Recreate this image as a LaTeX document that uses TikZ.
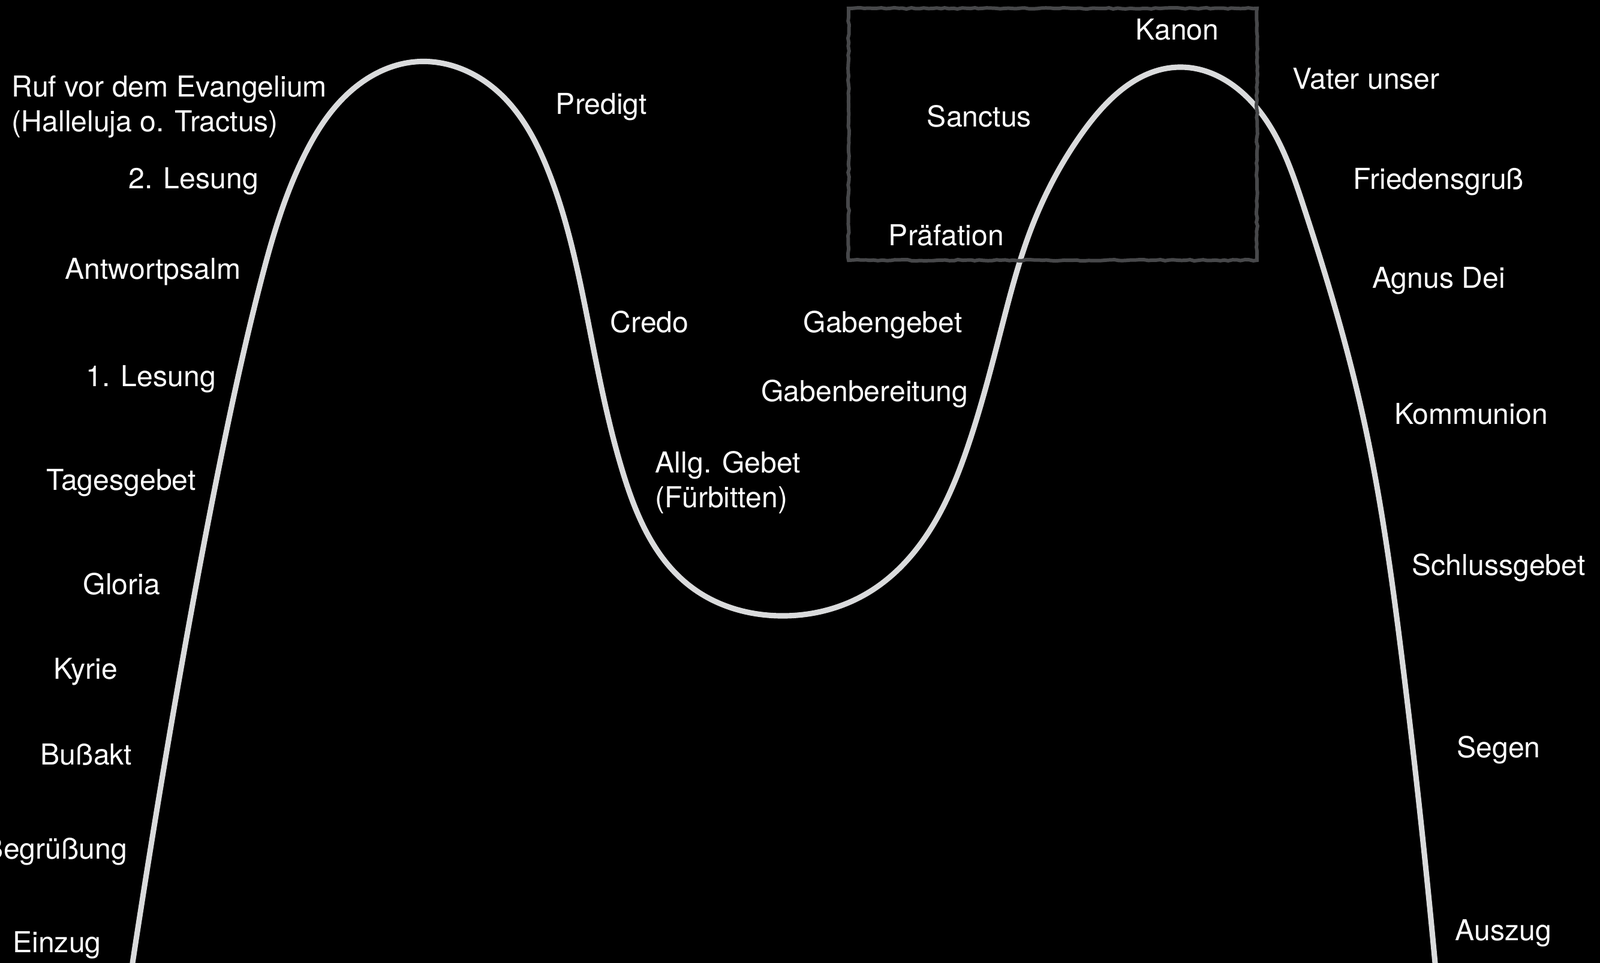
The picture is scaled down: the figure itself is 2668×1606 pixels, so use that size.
\documentclass[tikz,border=0pt]{standalone}
\usepackage{fontspec}
\setmainfont{TeX Gyre Heros}
\usepackage{xcolor}
\usetikzlibrary{decorations.pathmorphing, hobby}
\definecolor{chalk}{HTML}{DADBDC}
\definecolor{slate}{HTML}{47484A}

\begin{document}
\begin{tikzpicture}[
    x=0.01cm, y=-0.01cm,
    part/.style={text=white, inner sep=0pt, anchor=base, font=\fontsize{13.7}{16.4}\selectfont},
    twoline/.style={part, align=left, anchor=base west},
    curve/.style={draw=chalk, line width=2.6pt, line cap=round, line join=round},
    frame/.style={draw=slate, line width=1.7pt, decorate,
      decoration={random steps, segment length=2pt, amplitude=0.3pt}}
  ]
  \fill[black] (0,0) rectangle (2668,1606);
  \clip (0,0) rectangle (2668,1606);

  % the course of the mass
  \draw[curve, use Hobby shortcut] (221,1606) .. (287,1200) .. (361,800)
    .. (433,477) .. (507,260) .. (573,163) .. (693,103) .. (827,150)
    .. (915,287) .. (978,523) .. (1039,789) .. (1150,977) .. (1300,1027)
    .. (1450,987) .. (1540,900) .. (1613,747) .. (1670,547) .. (1720,380)
    .. (1808,217) .. (1966,112) .. (2096,180) .. (2172,339) .. (2272,691)
    .. (2338,1100) .. (2393,1606);

  % eucharistic prayer
  \draw[frame] (1415,14) rectangle (2096,434);

  % opening and word
  \node[twoline] (ruf) at (19,219) {Ruf vor dem Evangelium\\(Halleluja o. Tractus)};
  \node[part] (lesung2) at (323,314) {2. Lesung};
  \node[part] (psalm) at (255,465) {Antwortpsalm};
  \node[part] (lesung1) at (252,644) {1. Lesung};
  \node[part] (tagesgebet) at (202,817) {Tagesgebet};
  \node[part] (gloria) at (203,991) {Gloria};
  \node[part] (kyrie) at (143,1132) {Kyrie};
  \node[part] (bussakt) at (144,1275) {Bußakt};
  \node[part, anchor=base east] (gruss) at (213,1432) {Begrüßung};
  \node[part] (einzug) at (95,1588) {Einzug};
  \node[part] (predigt) at (1003,190) {Predigt};
  \node[part] (credo) at (1083,554) {Credo};
  \node[twoline] (fuerbitten) at (1092,846) {Allg. Gebet\\(Fürbitten)};

  % eucharist
  \node[part] (gabengebet) at (1472,554) {Gabengebet};
  \node[part] (gabenber) at (1442,669) {Gabenbereitung};
  \node[part] (praefation) at (1578,409) {Präfation};
  \node[part] (sanctus) at (1633,212) {Sanctus};
  \node[part] (kanon) at (1963,67) {Kanon};
  \node[part] (vater) at (2278,149) {Vater unser};
  \node[part] (frieden) at (2399,315) {Friedensgruß};
  \node[part] (agnus) at (2399,480) {Agnus Dei};
  \node[part] (kommunion) at (2453,707) {Kommunion};

  % closing
  \node[part] (schluss) at (2499,959) {Schlussgebet};
  \node[part] (segen) at (2499,1263) {Segen};
  \node[part] (auszug) at (2507,1568) {Auszug};
\end{tikzpicture}
\end{document}
